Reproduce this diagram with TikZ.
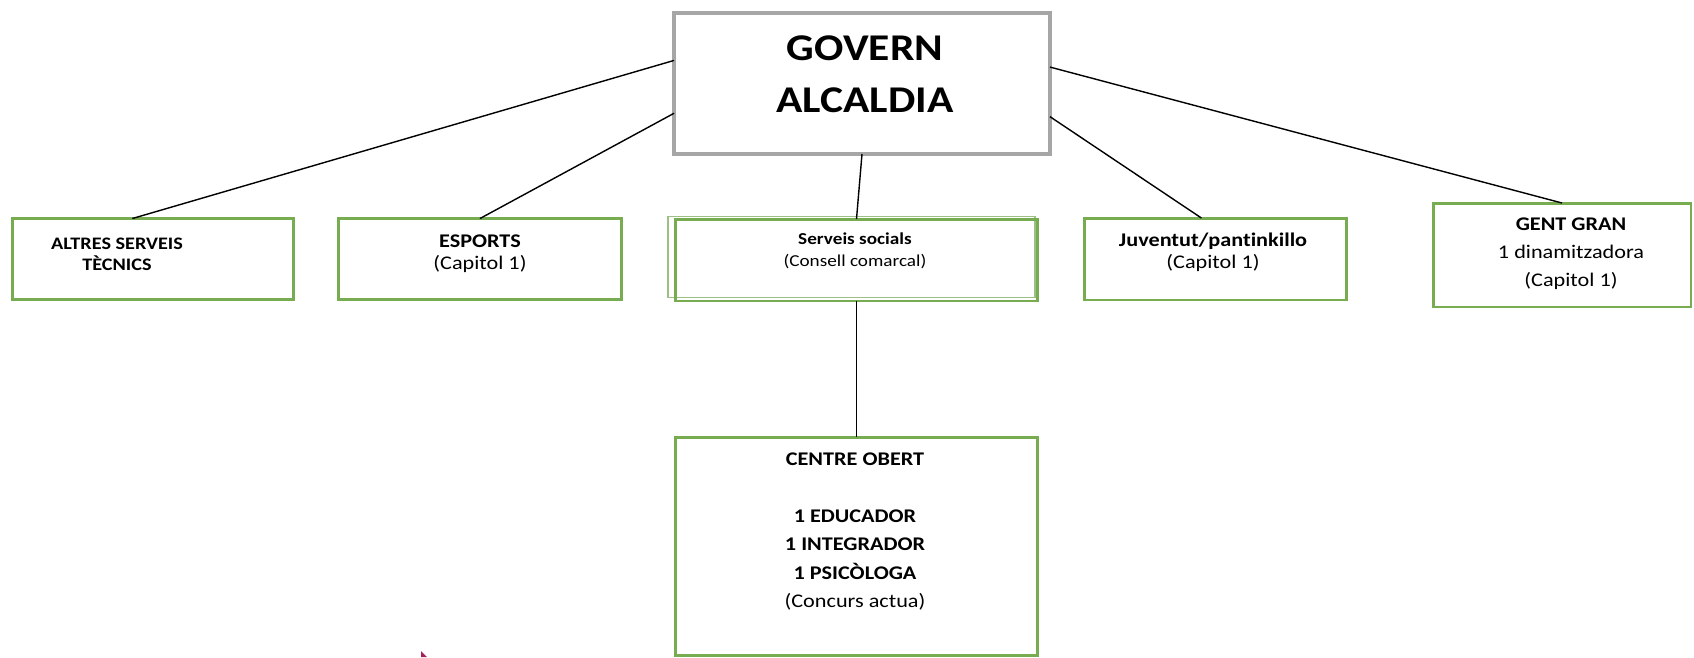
\documentclass[tikz,border=0pt]{standalone}
\usepackage{fontspec}
\setmainfont{Carlito}[FakeStretch=1.15, Ligatures=NoCommon]
\definecolor{boxgreen}{HTML}{77AC50}
\definecolor{ghostgreen}{HTML}{9CBF85}
\definecolor{headgray}{HTML}{A6A6A6}
\definecolor{markred}{HTML}{A3205E}

\begin{document}
\begin{tikzpicture}[x=0.02cm, y=-0.02cm]
				\tikzstyle{every node}=[inner sep=1pt, outer sep=0pt, align=center]
				\tikzstyle{box}=[draw=boxgreen, line width=1.7pt]
				\tikzstyle{lbl}=[font=\fontsize{11}{12.6}\selectfont]
				\useasboundingbox (0, 0) rectangle (1694, 657);
				% boxes
				\node [draw=headgray, line width=2.3pt, minimum width=7.52cm, minimum height=2.82cm] (govern) at (862, 83.5) {};
				\node [box, minimum width=5.62cm, minimum height=1.62cm] (altres) at (153, 259) {};
				\node [box, minimum width=5.68cm, minimum height=1.62cm] (esports) at (480, 259) {};
				\node [draw=ghostgreen, line width=0.8pt, minimum width=7.34cm, minimum height=1.62cm] (serveisb) at (851.5, 257) {};
				\node [box, minimum width=7.26cm, minimum height=1.64cm] (serveis) at (856.5, 260) {};
				\node [box, minimum width=5.26cm, minimum height=1.64cm] (juventut) at (1215.5, 259) {};
				\node [box, minimum width=5.16cm, minimum height=2.08cm] (gentgran) at (1562, 255) {};
				\node [box, minimum width=7.26cm, minimum height=4.38cm] (centre) at (856.5, 546.5) {};
				% texts
				\node [font=\fontsize{21.5}{29.5}\selectfont\bfseries] (governt) at (865, 74) {GOVERN\\ALCALDIA};
				\node [lbl, font=\bfseries] (altrest) at (117, 254) {ALTRES SERVEIS\\TÈCNICS};
				\node [lbl] (esportst) at (480, 254) {\textbf{ESPORTS}\\(Capitol 1)};
				\node [font=\fontsize{9.5}{12.5}\selectfont] (serveist) at (855, 251) {\textbf{Serveis socials}\\(Consell comarcal)};
				\node [lbl] (juventutt) at (1213, 252) {\textbf{Juventut/pantinkillo}\\(Capitol 1)};
				\node [font=\fontsize{11}{16}\selectfont] (gentgrant) at (1571, 254) {\textbf{GENT GRAN}\\1 dinamitzadora\\(Capitol 1)};
				\node [font=\fontsize{11}{16.2}\selectfont] (centret) at (855, 531.5) {\textbf{CENTRE OBERT}\\[16.2pt]\textbf{1 EDUCADOR}\\\textbf{1 INTEGRADOR}\\\textbf{1 PSICÒLOGA}\\(Concurs actua)};
				% connectors
				\draw [line width=0.8pt] (govern.173.5) -- (altres.117);
				\draw [line width=0.8pt] (govern.189) -- (esports.north);
				\draw [line width=0.8pt] (govern.south) -- (serveis.north);
				\draw [line width=0.8pt] (govern.350) -- (juventut.109);
				\draw [line width=0.8pt] (govern.5) -- (gentgran.north);
				\draw [line width=0.8pt] (serveis.south) -- (centre.north);
				\fill [markred] (421, 651) -- (427, 657) -- (421, 657) -- cycle;
\end{tikzpicture}
\end{document}
